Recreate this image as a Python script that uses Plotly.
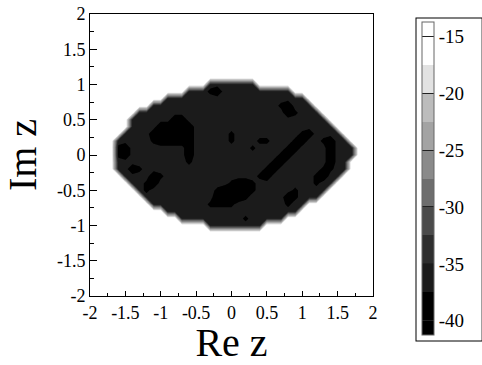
import plotly.graph_objects as go

# grid coordinates of the level map (Re z columns, Im z rows)
RE_GRID = [round(-1.8 + 0.1 * i, 2) for i in range(37)]
IM_GRID = [round(1.1 - 0.1 * j, 2) for j in range(23)]
RE_LIMITS = [-2.0, 2.0]
IM_LIMITS = [2.0, -2.0]

# level codes:
# '.' background, '#' dark plateau, 'b' slightly below -37.5, 'B' deep minimum
LEVEL_VALUES = {".": -14.0, "#": -36.0, "b": -38.5, "B": -41.0}

LEVEL_MAP = [
    ".....................................",
    "...............#######...............",
    "............###bB##########..........",
    ".........####################........",
    ".......##################bB###.......",
    ".....#####################Bb###......",
    "....######BB####################.....",
    "....####BBBBB####################....",
    "...####BBBBBB#####b#########bB####...",
    "..#####bBBBBB#####b###bb###bB##bB##..",
    "..bB########B########b####bB####B###.",
    "..bB########B############bB#####B###.",
    "..##########b###########bB######B##..",
    "..##Bb#################bB######bb##..",
    "...####Bb#############bB######bB##...",
    "....##bB##########bBBb########b##....",
    ".....#b#########bBBBBb#####b####.....",
    "......##########BBBBb#####Bb###......",
    ".......########bbbb#######b##........",
    ".........###################.........",
    "...........#########b#####...........",
    "...............########..............",
    ".....................................",
]

CONTOUR_START = -40
CONTOUR_END = -15
CONTOUR_STEP = 2.5

BAND_COLORS = ["#000000", "#000000", "#1b1b1b", "#2e2e2e", "#4b4b4b", "#6e6e6e",
               "#8a8a8a", "#a3a3a3", "#bcbcbc", "#e2e2e2", "#ffffff", "#ffffff"]

AXIS_TICKS = [-2, -1.5, -1, -0.5, 0, 0.5, 1, 1.5, 2]
AXIS_TICK_TEXT = ["-2", "-1.5", "-1", "-0.5", "0", "0.5", "1", "1.5", "2"]
CB_TICKS = [-40, -35, -30, -25, -20, -15]
CB_TICK_TEXT = ["-40", "-35", "-30", "-25", "-20", "-15"]

bg = LEVEL_VALUES["."]
x_full = [RE_LIMITS[0]] + RE_GRID + [RE_LIMITS[1]]
y_full = [IM_LIMITS[0]] + IM_GRID + [IM_LIMITS[1]]
inner = [[bg] + [LEVEL_VALUES[ch] for ch in row] + [bg] for row in LEVEL_MAP]
blank = [bg] * len(x_full)
z = [blank] + inner + [blank]

n = len(BAND_COLORS)
colorscale = [[k / (n - 1), c] for k, c in enumerate(BAND_COLORS)]

FONT = "Liberation Serif, Times New Roman, serif"

W, H = 482, 365
ML, MT, PW, PH = 90, 14, 283, 282

fig = go.Figure(go.Contour(
    x=x_full, y=y_full, z=z,
    colorscale=colorscale,
    contours=dict(start=CONTOUR_START, end=CONTOUR_END, size=CONTOUR_STEP,
                  coloring="fill", showlines=False),
    line=dict(width=0, smoothing=0),
    hoverinfo="skip",
    colorbar=dict(
        tickmode="array", tickvals=CB_TICKS, ticktext=CB_TICK_TEXT,
        ticks="inside", ticklen=12, tickwidth=1, tickcolor="#222222",
        thickness=12, thicknessmode="pixels",
        len=321, lenmode="pixels",
        x=(417 - ML) / PW, xanchor="left", xpad=5,
        y=1 - 4 / PH, yanchor="top", ypad=4,
        outlinecolor="#666666", outlinewidth=1,
        bordercolor="#000000", borderwidth=1,
        tickfont=dict(family=FONT, size=19, color="black"),
    ),
))

axis_common = dict(
    range=[-2, 2], tickmode="array", tickvals=AXIS_TICKS, ticktext=AXIS_TICK_TEXT,
    ticks="inside", tickcolor="black", tickwidth=1,
    showline=True, linecolor="black", linewidth=1, mirror=True,
    showgrid=False, zeroline=False, automargin=False,
    tickfont=dict(family=FONT, size=18, color="black"),
)

fig.update_xaxes(**axis_common, ticklen=5,
                 minor=dict(ticks="inside", ticklen=3, dtick=0.25, tick0=0, tickcolor="black", showgrid=False),
                 title=dict(text="Re z", font=dict(family=FONT, size=40, color="black"), standoff=12))
fig.update_yaxes(**axis_common, ticklen=7,
                 minor=dict(ticks="inside", ticklen=4, dtick=0.25, tick0=0, tickcolor="black", showgrid=False),
                 title=dict(text="Im z", font=dict(family=FONT, size=40, color="black"), standoff=52))

fig.update_layout(
    width=W, height=H,
    margin=dict(l=ML, r=W - ML - PW, t=MT, b=H - MT - PH, autoexpand=False),
    paper_bgcolor="white", plot_bgcolor="white",
    font=dict(family=FONT, color="black"),
    showlegend=False,
)

fig.write_html("out.html", config={"displayModeBar": False},
               post_script="document.body.style.margin='0px';")
